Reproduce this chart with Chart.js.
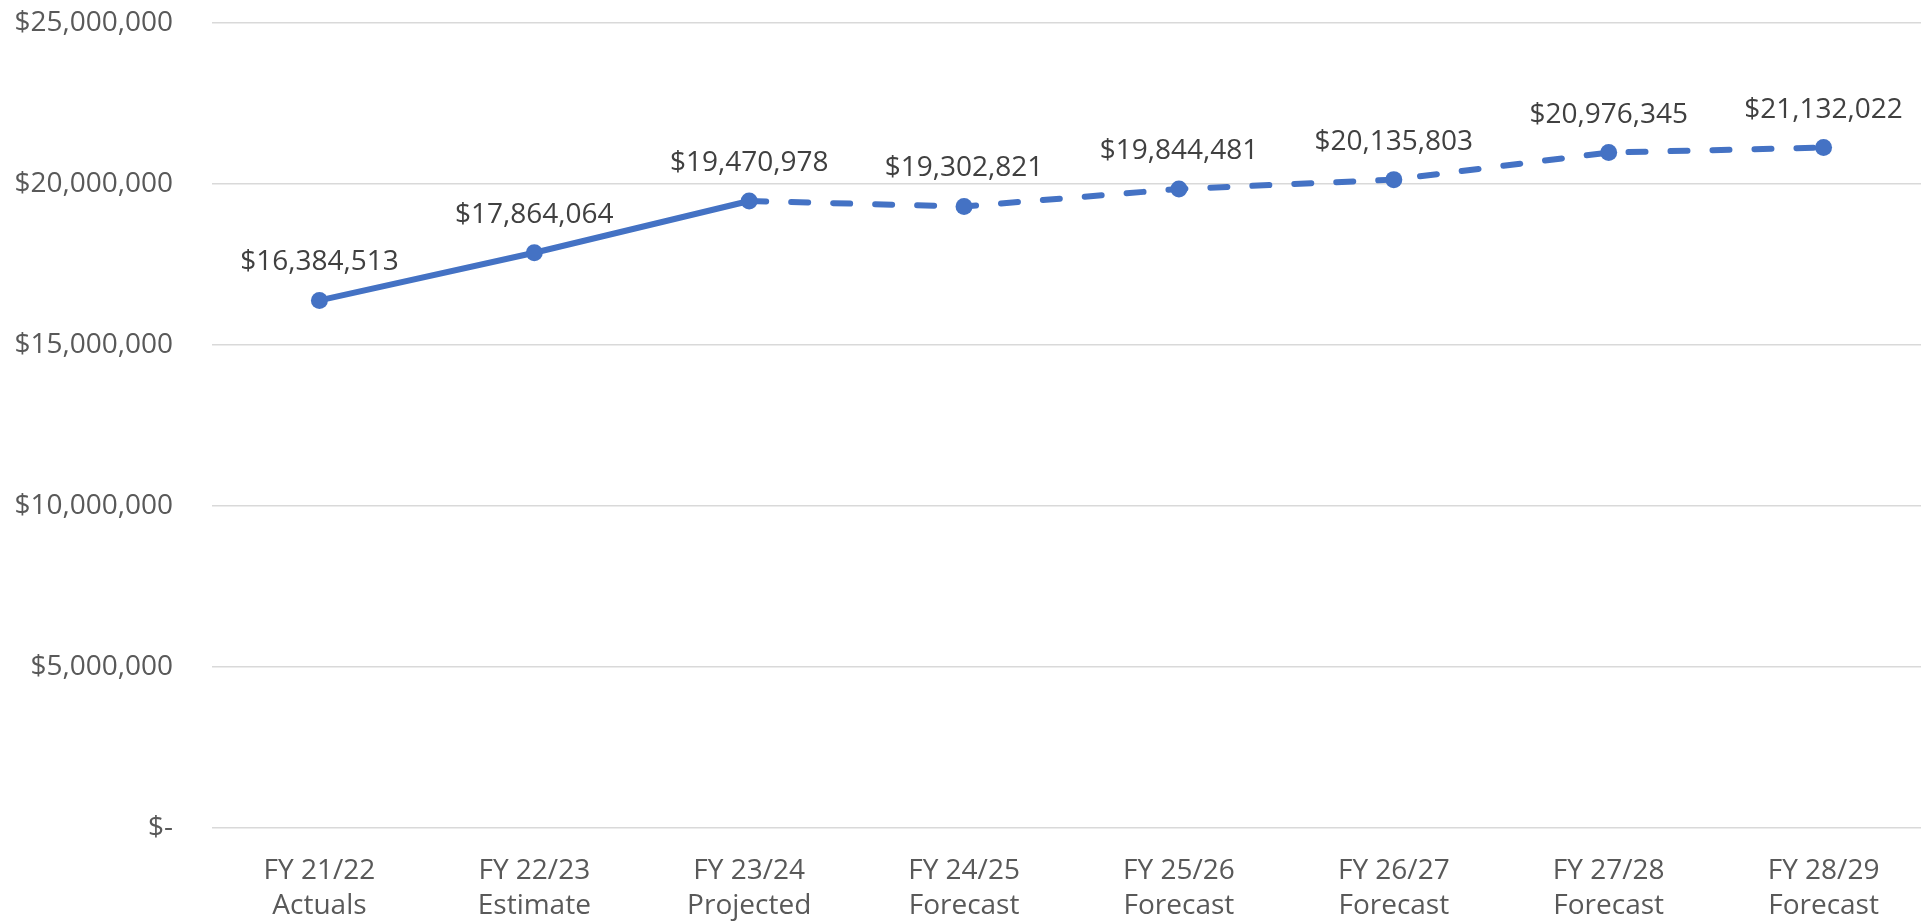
<!DOCTYPE html>
<html lang="en">
<head>
    <meta charset="UTF-8">
    <title>Revenue Forecast</title>
    <script src="https://cdn.jsdelivr.net/npm/chart.js"></script>
</head>
<style>
    html, body {
        margin: 0;
        padding: 0;
        background: #ffffff;
        overflow: hidden;
    }

    /* the plot area runs a little past the right edge, like the original */
    .wrap {
        width: 1940px;
        height: 924px;
        position: relative;
    }
</style>
<body>
    <div class="wrap">
        <canvas id="forecastChart"></canvas>
    </div>

    <script>
        var years = ['FY 21/22', 'FY 22/23', 'FY 23/24', 'FY 24/25', 'FY 25/26', 'FY 26/27', 'FY 27/28', 'FY 28/29'];
        var kinds = ['Actuals', 'Estimate', 'Projected', 'Forecast', 'Forecast', 'Forecast', 'Forecast', 'Forecast'];
        var amounts = [16384513, 17864064, 19470978, 19302821, 19844481, 20135803, 20976345, 21132022];
        var yTicks = [0, 5000000, 10000000, 15000000, 20000000, 25000000];
        var lastActual = 2; // index where the dashed forecast part starts

        var labels = years.map(function(y, i) { return [y, kinds[i]]; });

        var FONT = "'Open Sans', sans-serif";
        var BLUE = '#4472C4';
        var SIZE = 28;

        function money(v) {
            if (v === 0) return '$-';
            return '$' + Math.round(v).toLocaleString('en-US');
        }

        // draws the value above each point
        var valueLabels = {
            id: 'valueLabels',
            afterDatasetsDraw: function(chart) {
                var ctx = chart.ctx;
                var meta = chart.getDatasetMeta(0);
                ctx.save();
                ctx.font = SIZE + 'px ' + FONT;
                ctx.fillStyle = '#404040';
                ctx.textAlign = 'center';
                ctx.textBaseline = 'middle';
                meta.data.forEach(function(pt, i) {
                    ctx.fillText(money(amounts[i]), pt.x, pt.y - 38);
                });
                ctx.restore();
            }
        };

        var ctx = document.getElementById('forecastChart').getContext('2d');
        var forecastChart = new Chart(ctx, {
            type: 'line',
            data: {
                labels: labels,
                datasets: [{
                    data: amounts,
                    borderColor: BLUE,
                    backgroundColor: BLUE,
                    borderWidth: 6,
                    borderCapStyle: 'round',
                    pointRadius: 8.5,
                    pointBorderWidth: 0,
                    pointBackgroundColor: BLUE,
                    tension: 0,
                    segment: {
                        borderDash: function(c) {
                            return c.p0DataIndex >= lastActual ? [17, 25] : undefined;
                        }
                    }
                }]
            },
            options: {
                responsive: true,
                maintainAspectRatio: false,
                animation: false,
                layout: {
                    autoPadding: false,
                    padding: { top: 23, right: 9, bottom: 0, left: 0 }
                },
                plugins: {
                    legend: { display: false },
                    tooltip: { enabled: false }
                },
                scales: {
                    x: {
                        offset: true,
                        grid: { display: false, drawTicks: false },
                        border: { display: false },
                        afterFit: function(scale) {
                            scale.height = 96;
                        },
                        ticks: {
                            color: '#595959',
                            font: { family: FONT, size: SIZE, lineHeight: 1.25 },
                            padding: 26,
                            maxRotation: 0,
                            autoSkip: false
                        }
                    },
                    y: {
                        min: 0,
                        max: 25000000,
                        afterBuildTicks: function(scale) {
                            scale.ticks = yTicks.map(function(v) { return { value: v }; });
                        },
                        afterFit: function(scale) {
                            scale.width = 212;
                            scale.paddingTop = 0;
                            scale.paddingBottom = 0;
                        },
                        grid: {
                            color: '#d9d9d9',
                            lineWidth: 1.5,
                            drawTicks: false
                        },
                        border: { display: false },
                        ticks: {
                            color: '#595959',
                            font: { family: FONT, size: SIZE },
                            padding: 39,
                            callback: function(v) { return money(v); }
                        }
                    }
                }
            },
            plugins: [valueLabels]
        });
    </script>
</body>
</html>
